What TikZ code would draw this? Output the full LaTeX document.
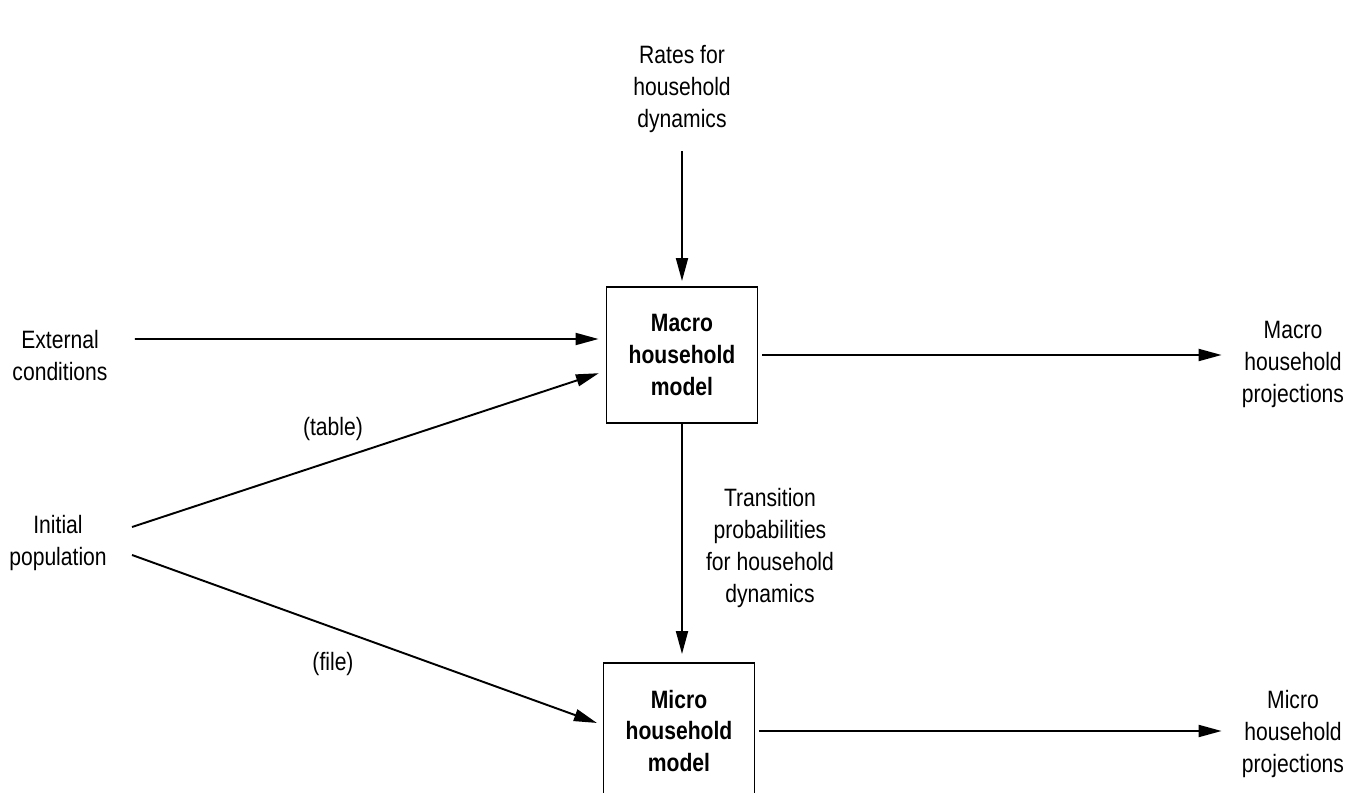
\documentclass[tikz,border=0pt]{standalone}
\usepackage{fontspec}
\setmainfont[FakeStretch=0.84]{Liberation Sans}
\usetikzlibrary{arrows.meta}

\begin{document}
\begin{tikzpicture}[x=0.02cm, y=-0.02cm,
  box/.style={draw, line width=1.1pt, shape=rectangle, minimum width=3.02cm,
  minimum height=2.72cm, align=center, font=\fontsize{14.3}{18.2}\selectfont\bfseries},
  txt/.style={inner sep=0pt, align=center, font=\fontsize{14.3}{18.2}\selectfont},
  arr/.style={-{Triangle[length=0.46cm, width=0.24cm]}, line width=1.1pt}]
\useasboundingbox (0,0) rectangle (1346,793);
\clip (0,0) rectangle (1346,793);
\node (rates) [txt] at (682,89) {Rates for\\household\\dynamics};
\node (macro) [box] at (682,355) {Macro\\household\\model};
\node (micro) [box] at (679,731) {Micro\\household\\model};
\node (ext) [txt] at (60,356) {External\\conditions};
\node (init) [txt] at (58,543) {Initial\\population};
\node (macproj) [txt] at (1293,364) {Macro\\household\\projections};
\node (micproj) [txt] at (1293,734) {Micro\\household\\projections};
\node (trans) [txt] at (770,548) {Transition\\probabilities\\for household\\dynamics};
\node (tbl) [txt] at (333,429) {(table)};
\node (fil) [txt] at (333,664) {(file)};
\draw[arr, shorten <=0.36cm, shorten >=0.1cm] (rates.south) -- (rates.south |- macro.north);
\draw[arr, shorten >=0.16cm] (macro.south) -- (macro.south |- micro.north);
\draw[arr, shorten >=0.14cm] ([xshift=0.54cm, yshift=0.34cm]ext.east) -- ([yshift=0.32cm]macro.west);
\draw[arr, shorten >=0.14cm] ([xshift=0.5cm, yshift=0.32cm]init.east) -- ([yshift=-0.32cm]macro.west);
\draw[arr, shorten >=0.12cm] ([xshift=0.5cm, yshift=-0.24cm]init.east) -- ([yshift=0.12cm]micro.west);
\draw[arr, shorten <=0.08cm, shorten >=0.4cm] (macro.east) -- (macro.east -| macproj.west);
\draw[arr, shorten <=0.08cm, shorten >=0.4cm] (micro.east) -- (micro.east -| micproj.west);
\end{tikzpicture}
\end{document}
